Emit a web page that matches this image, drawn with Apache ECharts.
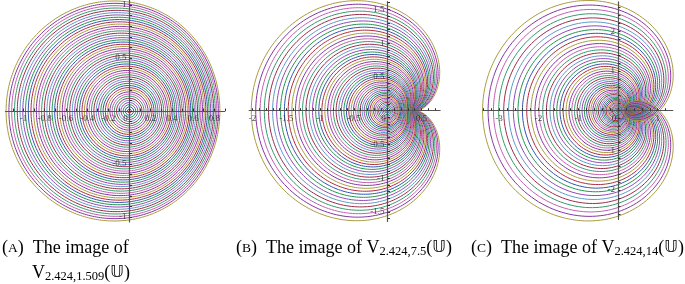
<!DOCTYPE html>
<html><head><meta charset="utf-8">
<script src="https://cdn.jsdelivr.net/npm/echarts@6/dist/echarts.min.js"></script>
<style>html,body{margin:0;padding:0;background:#fff}#c{width:685px;height:284px}</style>
</head><body><div id="c"></div>
<script>
// Parameters of the plotted maps V_{a,b}(z) = z * sum_n (-b/4)^n z^n / ((a)_n n!)
const paramA = 2.424;
const paramB = [1.509, 7.5, 14];
// radii of the circles |z| = r whose images are drawn
const radii = [0.02,0.04,0.06,0.08,0.10,0.12,0.14,0.16,0.18,0.20,0.22,0.24,0.26,0.28,0.30,0.32,0.34,0.36,0.38,0.40,
  0.42,0.44,0.46,0.48,0.50,0.52,0.54,0.56,0.58,0.60,0.62,0.64,0.66,0.68,0.70,0.72,0.74,0.76,0.78,0.80,
  0.82,0.84,0.86,0.88,0.90,0.92,0.94,0.96,0.98,1.00];
// tick labels
const ticksA_x = [-1,-0.8,-0.6,-0.4,-0.2,0,0.2,0.4,0.6,0.8];
const ticksA_y = [-1,-0.5,0.5,1];
const ticksB_x = [-2,-1.5,-1,-0.5,0,0.5];
const ticksB_y = [-1.5,-1,-0.5,0.5,1,1.5];
const ticksC_x = [-3,-2,-1,0,1];
const ticksC_y = [-2,-1,1,2];
const palette = ['#b02a40','#2f55b0','#24944c','#9446b4','#5f98c6','#9c2a48','#33996a','#c25fb0','#8334a4','#a89c3c'];

function coeffs(a, b) {
  const c = [1]; let t = 1;
  for (let n = 1; n < 30; n++) { t = t * (-b / 4) / ((a + n - 1) * n); c.push(t); }
  return c;
}
function curve(cf, r) {
  const pts = []; const N = 720;
  for (let k = 0; k <= N; k++) {
    const th = 2 * Math.PI * k / N; let re = 0, im = 0, rp = r;
    for (let n = 0; n < cf.length; n++) {
      const ang = (n + 1) * th;
      re += cf[n] * rp * Math.cos(ang); im += cf[n] * rp * Math.sin(ang); rp *= r;
    }
    pts.push([re, im]);
  }
  return pts;
}
function minorTicks(lo, hi, step) {
  const out = []; const s = Math.ceil(lo / step - 1e-9), e = Math.floor(hi / step + 1e-9);
  for (let i = s; i <= e; i++) out.push(+(i * step).toFixed(6));
  return out;
}
const panels = [
  {x0:129.5, y0:111, sc:106, xmin:-1.17, xmax:0.9, ymin:-1.047, ymax:1.047, tx:ticksA_x, ty:ticksA_y, mx:0.1, my:0.1},
  {x0:387.5, y0:110.7, sc:67.5, xmin:-2.05, xmax:0.78, ymin:-1.64, ymax:1.615, tx:ticksB_x, ty:ticksB_y, mx:0.1, my:0.1},
  {x0:618, y0:110.7, sc:39.7, xmin:-3.4, xmax:1.38, ymin:-2.74, ymax:2.74, tx:ticksC_x, ty:ticksC_y, mx:0.2, my:0.2}
];
const grids = [], xAxes = [], yAxes = [], series = [];
const axCol = '#555';
const fmt = v => (v < 0 ? '-' : '') + String(Math.abs(+(+v).toFixed(3)));
const tickFont = {fontFamily:'Liberation Serif', fontSize:9, color:'#222'};
panels.forEach((p, i) => {
  grids.push({left: p.x0 + p.xmin * p.sc, top: p.y0 - p.ymax * p.sc,
    width: (p.xmax - p.xmin) * p.sc, height: (p.ymax - p.ymin) * p.sc});
  xAxes.push({type:'value', gridIndex:i, min:p.xmin, max:p.xmax, z:10,
    axisLine:{onZero:true, lineStyle:{color:axCol, width:1.2}},
    axisTick:{show:true, length:2.5, inside:true, customValues: minorTicks(p.xmin, p.xmax, p.mx), lineStyle:{color:'#333'}},
    axisLabel:{show:false}, splitLine:{show:false}});
  yAxes.push({type:'value', gridIndex:i, min:p.ymin, max:p.ymax, z:10,
    axisLine:{onZero:true, lineStyle:{color:axCol, width:1.2}},
    axisTick:{show:true, length:2.5, inside:true, customValues: minorTicks(p.ymin, p.ymax, p.my), lineStyle:{color:'#333'}},
    axisLabel:{show:false}, splitLine:{show:false}});
  const cf = coeffs(paramA, paramB[i]);
  radii.forEach((r, j) => {
    series.push({type:'line', xAxisIndex:i, yAxisIndex:i, data: curve(cf, r), showSymbol:false,
      symbol:'none', clip:false, silent:true, animation:false, z:2,
      lineStyle:{color: palette[j % palette.length], width:1}});
  });
  // tick labels on the axes crossing at the origin
  series.push({type:'scatter', xAxisIndex:i, yAxisIndex:i, symbolSize:0, z:20, silent:true, clip:false,
    data: p.tx.map(v => ({value:[v, 0], label: v === 0 ? {offset:[-4, 0]} : {}})),
    label:{show:true, position:'bottom', distance:3, formatter: d => fmt(d.value[0]), ...tickFont}});
  series.push({type:'scatter', xAxisIndex:i, yAxisIndex:i, symbolSize:0, z:20, silent:true, clip:false,
    data: p.ty.map(v => [0, v]),
    label:{show:true, position:'left', distance:3, formatter: d => fmt(d.value[1]), ...tickFont}});
});
const capFont = 'Liberation Serif';
const rich = {
  t:{fontFamily:capFont, fontSize:18, color:'#000'},
  sc:{fontFamily:capFont, fontSize:13.5, color:'#000'},
  s:{fontFamily:capFont, fontSize:12.5, color:'#000', verticalAlign:'bottom', padding:[7,0,0,0]},
  u:{fontFamily:'DejaVu Sans', fontSize:16.5, color:'#000'}
};
function cap(x, y, str) { return {type:'text', left:x, top:y, style:{text:str, rich:rich, font:'18px Liberation Serif'}}; }
const chart = echarts.init(document.getElementById('c'), null, {renderer:'canvas'});
chart.setOption({
  animation:false,
  grid: grids, xAxis: xAxes, yAxis: yAxes, series: series,
  graphic: [
    cap(2, 239, '{t|(}{sc|A}{t|)  The image of}'),
    cap(32, 264, '{t|V}{s|2.424,1.509}{t|(}{u|𝕌}{t|)}'),
    cap(236, 239, '{t|(}{sc|B}{t|)  The image of V}{s|2.424,7.5}{t|(}{u|𝕌}{t|)}'),
    cap(471, 239, '{t|(}{sc|C}{t|)  The image of V}{s|2.424,14}{t|(}{u|𝕌}{t|)}')
  ]
});
</script></body></html>
